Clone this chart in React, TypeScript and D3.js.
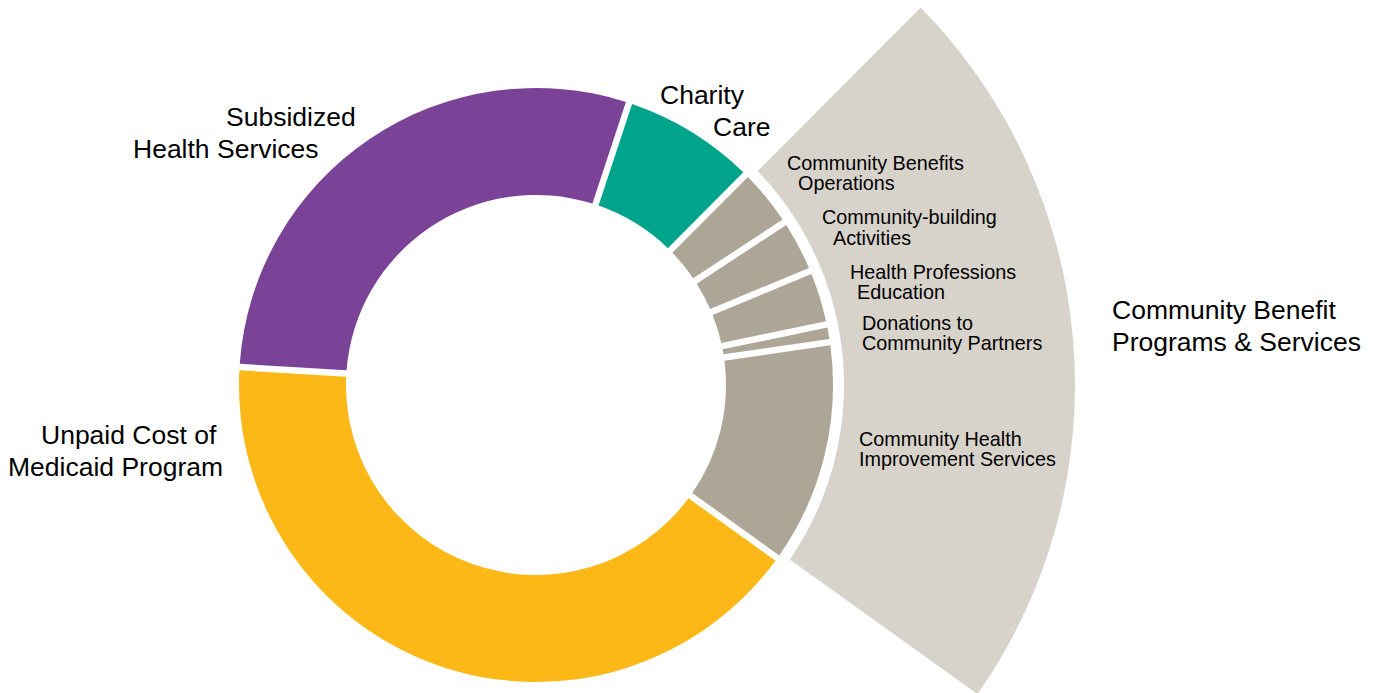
import React from "react";
import * as d3 from "d3";

const categories = [
  "Charity Care",
  "Community Benefits Operations",
  "Community-building Activities",
  "Health Professions Education",
  "Donations to Community Partners",
  "Community Health Improvement Services",
  "Unpaid Cost of Medicaid Program",
  "Subsidized Health Services",
];
const values = [7.4, 3.3, 2.95, 3.0, 0.97, 12.2, 41.05, 29.1];
const colors = ["#00A48A", "#ADA595", "#ADA595", "#ADA595", "#ADA595", "#ADA595", "#FCB817", "#7B4397"];
const groupIndices = [1, 2, 3, 4, 5];

type Lbl = { lines: string[]; xs: number[]; ys: number[]; size: number };
const bigLabels: Lbl[] = [
  { lines: ["Subsidized", "Health Services"], xs: [226, 133], ys: [126, 158], size: 26.5 },
  { lines: ["Charity", "Care"], xs: [660, 713], ys: [104, 136], size: 26.5 },
  { lines: ["Unpaid Cost of", "Medicaid Program"], xs: [41, 8], ys: [444, 476], size: 26.5 },
  { lines: ["Community Benefit", "Programs & Services"], xs: [1112, 1112], ys: [319, 351], size: 26.5 },
];
const smallLabels: Lbl[] = [
  { lines: ["Community Benefits", "Operations"], xs: [787, 798], ys: [169.5, 190], size: 19.8 },
  { lines: ["Community-building", "Activities"], xs: [822, 833], ys: [224, 245], size: 19.8 },
  { lines: ["Health Professions", "Education"], xs: [850, 857], ys: [278.5, 299], size: 19.8 },
  { lines: ["Donations to", "Community Partners"], xs: [862, 862], ys: [329.5, 350], size: 19.8 },
  { lines: ["Community Health", "Improvement Services"], xs: [859, 859], ys: [445.5, 466], size: 19.8 },
];

const W = 1379;
const H = 693;
const cx = 536;
const cy = 385;

export default function App() {
  const start = (18.25 * Math.PI) / 180;
  const pie = d3
    .pie<number>()
    .sort(null)
    .startAngle(start)
    .endAngle(start + 2 * Math.PI);
  const arcs = pie(values);

  const donut = d3
    .arc<d3.PieArcDatum<number>>()
    .innerRadius(190)
    .outerRadius(297)
    .padRadius(297)
    .padAngle(6.5 / 297);

  const gStart = arcs[groupIndices[0]].startAngle;
  const gEnd = arcs[groupIndices[groupIndices.length - 1]].endAngle;
  const groupArc = d3
    .arc<any>()
    .innerRadius(308)
    .outerRadius(539)
    .padRadius(308)
    .padAngle(12 / 308)({ startAngle: gStart, endAngle: gEnd } as any);

  const font = "'Liberation Sans', Arial, sans-serif";
  const renderLabels = (ls: Lbl[]) =>
    ls.map((l, i) => (
      <text key={i} fontFamily={font} fontSize={l.size} fill="#000">
        {l.lines.map((t, j) => (
          <tspan key={j} x={l.xs[j]} y={l.ys[j]}>
            {t}
          </tspan>
        ))}
      </text>
    ));

  return (
    <svg
      width={W}
      height={H}
      style={{ position: "absolute", left: 0, top: 0, background: "#fff" }}
    >
      <g transform={`translate(${cx},${cy})`}>
        <path d={groupArc || ""} fill="#D7D3CB" />
        {arcs.map((a, i) => (
          <path key={categories[i]} d={donut(a) || ""} fill={colors[i]} />
        ))}
      </g>
      {renderLabels(bigLabels)}
      {renderLabels(smallLabels)}
    </svg>
  );
}
